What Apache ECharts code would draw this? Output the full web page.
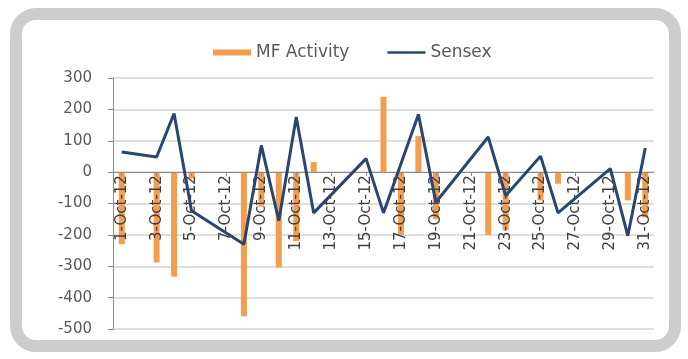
<!DOCTYPE html>
<html>
<head>
<meta charset="utf-8">
<script src="https://cdn.jsdelivr.net/npm/echarts@6/dist/echarts.min.js"></script>
<style>
  html, body { margin: 0; padding: 0; background: #ffffff; }
  #frame { position: absolute; left: 10px; top: 8px; width: 647px; height: 320px;
           border: 12px solid #cdcdcd; border-radius: 26px; background: #ffffff; }
  #chart { position: absolute; left: 0; top: 0; width: 688px; height: 359px; }
</style>
</head>
<body>
<div id="frame"></div>
<div id="chart"></div>
<script>
// Calendar days of October 2012 (Excel date axis)
const days = ["1-Oct-12","2-Oct-12","3-Oct-12","4-Oct-12","5-Oct-12","6-Oct-12","7-Oct-12","8-Oct-12",
  "9-Oct-12","10-Oct-12","11-Oct-12","12-Oct-12","13-Oct-12","14-Oct-12","15-Oct-12","16-Oct-12",
  "17-Oct-12","18-Oct-12","19-Oct-12","20-Oct-12","21-Oct-12","22-Oct-12","23-Oct-12","24-Oct-12",
  "25-Oct-12","26-Oct-12","27-Oct-12","28-Oct-12","29-Oct-12","30-Oct-12","31-Oct-12"];
// null = no trading that day
const mfActivity = [-230, null, -288, -333, -20, null, null, -459,
  -110, -304, -220, 32, null, null, null, 240,
  -200, 115, -150, null, null, -200, -185, null,
  -90, -37, null, null, null, -90, -145];
const sensex = [64, null, 48, 187, -123, null, null, -230,
  85, -155, 176, -130, null, null, 43, -130,
  27, 184, -96, null, null, 112, -75, null,
  51, -130, null, null, 11, -203, 77];
const yTicks = { min: -500, max: 300, interval: 100 };

const gridTop = 78, gridBottom = 30, H = 359;
const plotH = H - gridTop - gridBottom;
// move the category axis up to the value 0 line
const zeroOffset = -plotH * (0 - yTicks.min) / (yTicks.max - yTicks.min);

const chart = echarts.init(document.getElementById('chart'), null, { renderer: 'canvas' });
chart.setOption({
  backgroundColor: 'transparent',
  animation: false,
  textStyle: { fontFamily: 'DejaVu Sans' },
  legend: {
    left: 208, top: 39,
    itemWidth: 38, itemHeight: 6, itemGap: 38,
    textStyle: { fontSize: 17, color: '#595959', fontFamily: 'DejaVu Sans' },
    data: [
      { name: 'MF Activity', icon: 'rect' },
      { name: 'Sensex', icon: 'path://M0,0 L50,0 L50,3.5 L0,3.5 Z' }
    ]
  },
  grid: { left: 113, right: 34, top: gridTop, bottom: gridBottom, containLabel: false },
  xAxis: {
    type: 'category',
    data: days,
    boundaryGap: true,
    offset: zeroOffset,
    z: 3,
    axisLine: { onZero: false, lineStyle: { color: '#8c8c8c', width: 1 } },
    axisTick: { show: true, interval: 1, length: 4, alignWithLabel: true, lineStyle: { color: '#8c8c8c' } },
    axisLabel: { interval: 1, rotate: 90, margin: 3, fontSize: 15, color: '#404040', fontFamily: 'DejaVu Sans' },
    splitLine: { show: false }
  },
  yAxis: {
    type: 'value',
    min: yTicks.min, max: yTicks.max, interval: yTicks.interval,
    axisLine: { show: true, lineStyle: { color: '#8c8c8c', width: 1 } },
    axisTick: { show: true, length: 5, lineStyle: { color: '#8c8c8c' } },
    axisLabel: { margin: 21, fontSize: 15, color: '#595959', fontFamily: 'DejaVu Sans' },
    splitLine: { show: true, lineStyle: { color: '#d4d4d4', width: 1.5 } }
  },
  series: [
    {
      name: 'MF Activity', type: 'bar', data: mfActivity,
      barWidth: 6, z: 2,
      itemStyle: { color: '#f49d4f' }
    },
    {
      name: 'Sensex', type: 'line', data: sensex,
      connectNulls: true, symbol: 'none', z: 4,
      lineStyle: { color: '#2a4670', width: 3 },
      itemStyle: { color: '#2a4670' }
    }
  ]
});
</script>
</body>
</html>
